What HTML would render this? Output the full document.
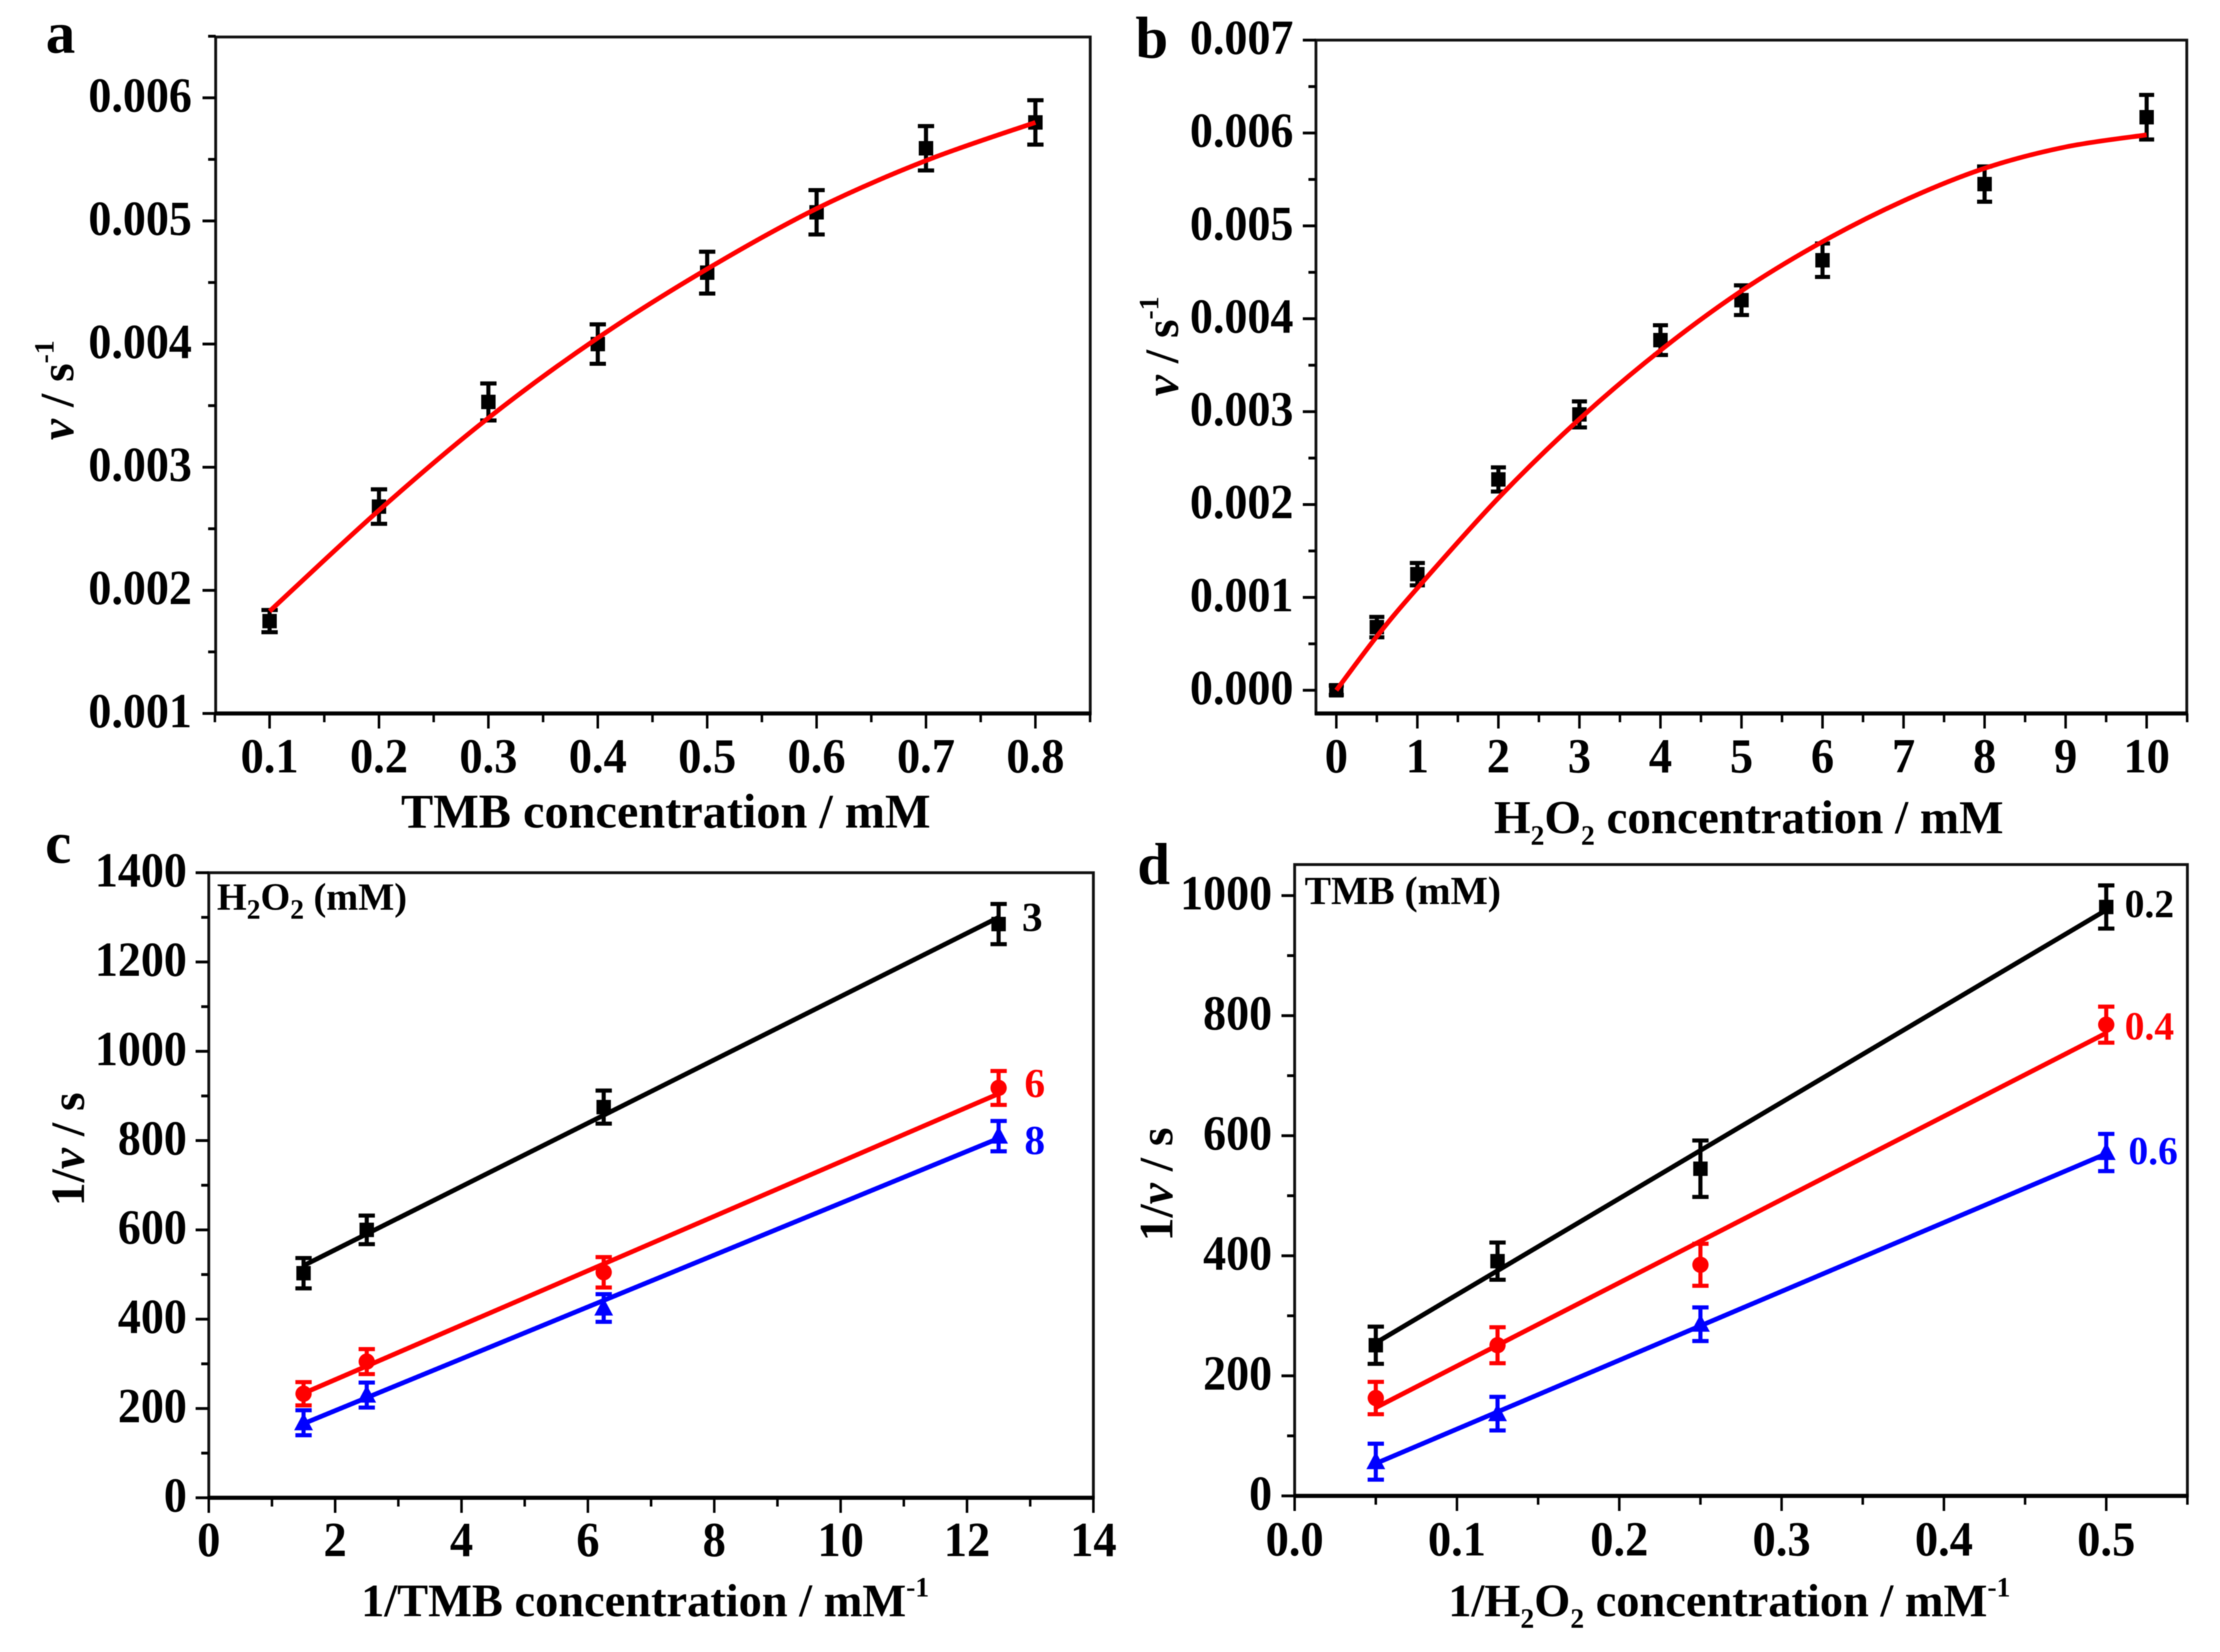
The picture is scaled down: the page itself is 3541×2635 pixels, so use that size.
<!DOCTYPE html>
<html lang="en">
<head>
<meta charset="utf-8">
<title>Steady-state kinetics panels</title>
<style>
html,body{margin:0;padding:0;background:#fff;}
svg{display:block;filter:blur(0.9px);}
text{font-family:"Liberation Serif",serif;font-weight:bold;fill:#000;}
.t{font-size:76px;}
.n{font-size:78px;}
.l{font-size:63px;}
.d{font-size:66px;}
.s{font-size:44px;}
.p{font-size:94px;}
.i{font-style:italic;}
</style>
</head>
<body>
<svg id="fig" xmlns="http://www.w3.org/2000/svg" width="3541" height="2635" viewBox="0 0 3541 2635">
<rect x="0" y="0" width="3541" height="2635" fill="#fff"/>

<text class="p" x="73" y="84">a</text>
<text class="p" x="1811" y="92">b</text>
<text class="p" x="72" y="1376">c</text>
<text class="p" x="1814" y="1410">d</text>

<text class="t" style="font-size:77px" x="1062" y="1320" text-anchor="middle">TMB concentration / mM</text>
<text class="t" style="font-size:75px" x="2383" y="1329">H<tspan class="s" dy="18">2</tspan><tspan dy="-18">O</tspan><tspan class="s" dy="18">2</tspan><tspan dy="-18"> concentration / mM</tspan></text>
<text class="t" style="font-size:74px" x="576" y="2578">1/TMB concentration / mM<tspan class="s" dy="-32">-1</tspan></text>
<text class="t" style="font-size:74px" x="2310" y="2578">1/H<tspan class="s" dy="18">2</tspan><tspan dy="-18">O</tspan><tspan class="s" dy="18">2</tspan><tspan dy="-18"> concentration / mM</tspan><tspan class="s" dy="-32">-1</tspan></text>

<text class="t" transform="translate(117,702) rotate(-90)"><tspan class="i">v</tspan> / s<tspan class="s" dy="-32">-1</tspan></text>
<text class="t" transform="translate(1879,632) rotate(-90)"><tspan class="i">v</tspan> / s<tspan class="s" dy="-32">-1</tspan></text>
<text class="t" transform="translate(134,1924) rotate(-90)">1/<tspan class="i">v</tspan> / s</text>
<text class="t" transform="translate(1870,1980) rotate(-90)">1/<tspan class="i">v</tspan> / s</text>

<text class="l" style="font-size:61px" x="346" y="1451">H<tspan class="s" dy="14">2</tspan><tspan dy="-14">O</tspan><tspan class="s" dy="14">2</tspan><tspan dy="-14"> (mM)</tspan></text>
<text class="l" x="2081" y="1442">TMB (mM)</text>

<text class="d" x="1630" y="1485">3</text>
<text class="d" x="1634" y="1750" style="fill:#f00">6</text>
<text class="d" x="1634" y="1841" style="fill:#00f">8</text>
<text class="d" x="3389" y="1463" style="font-size:63px">0.2</text>
<text class="d" x="3389" y="1658" style="font-size:63px;fill:#f00">0.4</text>
<text class="d" x="3395" y="1857" style="font-size:63px;fill:#00f">0.6</text>
</svg>

<script>
// ---- panel a ----
var aXTicks = ['0.1','0.2','0.3','0.4','0.5','0.6','0.7','0.8'];
var aYTicks = ['0.001','0.002','0.003','0.004','0.005','0.006'];
var aX = [0.1,0.2,0.3,0.4,0.5,0.6,0.7,0.8];
var aV = [0.00175,0.00268,0.00353,0.00400,0.00458,0.00507,0.00559,0.00580];
var aErr = [0.00009,0.00014,0.00015,0.00016,0.00017,0.00018,0.00018,0.00018];
var aFit = [0.00183,0.00265,0.00340,0.00405,0.00461,0.00510,0.00549,0.00580];

// ---- panel b ----
var bXTicks = ['0','1','2','3','4','5','6','7','8','9','10'];
var bYTicks = ['0.000','0.001','0.002','0.003','0.004','0.005','0.006','0.007'];
var bX = [0,0.5,1,2,3,4,5,6,8,10];
var bV = [0,0.00068,0.00125,0.00227,0.00297,0.00377,0.00420,0.00463,0.00545,0.00617];
var bErr = [0.00005,0.00011,0.00012,0.00013,0.00014,0.00016,0.00016,0.00018,0.00019,0.00024];
var bFitX = [0,0.5,1,2,3,4,5,6,7,8,9,10];
var bFit = [0,0.00058,0.00110,0.00207,0.00292,0.00366,0.00430,0.00483,0.00527,0.00562,0.00585,0.00598];

// ---- panel c ----
var cXTicks = ['0','2','4','6','8','10','12','14'];
var cYTicks = ['0','200','400','600','800','1000','1200','1400'];
var cX = [1.5,2.5,6.25,12.5];
var cFitX = [1.5,12.5];
var c3V = [503,600,875,1285];
var c3Err = [34,32,37,45];
var c3Fit = [520,1300];
var c6V = [233,305,505,918];
var c6Err = [26,28,34,38];
var c6Fit = [234,905];
var c8V = [168,230,425,810];
var c8Err = [28,28,31,34];
var c8Fit = [166,805];

// ---- panel d ----
var dXTicks = ['0.0','0.1','0.2','0.3','0.4','0.5'];
var dYTicks = ['0','200','400','600','800','1000'];
var dX = [0.05,0.125,0.25,0.5];
var dFitX = [0.05,0.5];
var d2V = [251,391,545,981];
var d2Err = [31,31,47,36];
var d2Fit = [255,976];
var d4V = [163,251,385,785];
var d4Err = [27,30,35,30];
var d4Fit = [147,771];
var d6V = [57,137,286,572];
var d6Err = [30,28,28,31];
var d6Fit = [54,570];

var NS = 'http://www.w3.org/2000/svg';
var svg = document.getElementById('fig');

function make(tag, attrs, parent) {
  var n = document.createElementNS(NS, tag);
  for (var k in attrs) { n.setAttribute(k, attrs[k]); }
  parent.appendChild(n);
  return n;
}
function linear(d0, d1, r0, r1) {
  return function (v) { return r0 + (v - d0) * (r1 - r0) / (d1 - d0); };
}
function smoothPath(pts) {
  var d = 'M' + pts[0][0] + ' ' + pts[0][1];
  for (var i = 0; i < pts.length - 1; i++) {
    var p0 = pts[Math.max(i - 1, 0)], p1 = pts[i], p2 = pts[i + 1], p3 = pts[Math.min(i + 2, pts.length - 1)];
    d += ' C' + (p1[0] + (p2[0] - p0[0]) / 6) + ' ' + (p1[1] + (p2[1] - p0[1]) / 6) + ' ' +
         (p2[0] - (p3[0] - p1[0]) / 6) + ' ' + (p2[1] - (p3[1] - p1[1]) / 6) + ' ' + p2[0] + ' ' + p2[1];
  }
  return d;
}

function drawAxes(g, box, sx, sy, xTicks, yTicks, xLabelGap, yLabelGap, yBase) {
  var frame = make('rect', {x: box.l, y: box.t, width: box.r - box.l, height: box.b - box.t, fill: 'none', stroke: '#111', 'stroke-width': 4.5}, g);
  
  
  var base = make('line', {x1: box.l - 2, x2: box.r + 2, y1: box.b, y2: box.b, stroke: '#000', 'stroke-width': 6.5}, g);
  
  

  var xv = xTicks.map(parseFloat), yv = yTicks.map(parseFloat);
  var xStep = (xv[1] - xv[0]) / 2, yStep = (yv[1] - yv[0]) / 2;
  var v, i, t, lab;

  var xMin = Math.min(sx.inv(box.l), sx.inv(box.r)), xMax = Math.max(sx.inv(box.l), sx.inv(box.r));
  for (i = -4; i <= xv.length * 2 + 4; i++) {
    v = xv[0] + i * xStep;
    if (v < xMin - xStep * 0.02 || v > xMax + xStep * 0.02) { continue; }
    var major = i % 2 === 0 && i >= 0 && i / 2 < xv.length;
    t = make('line', {x1: sx(v), x2: sx(v), y1: box.b, y2: box.b + (major ? 24 : 14), stroke: '#000', 'stroke-width': 4}, g);
    
    
  }
  var yMin = sy.inv(box.b), yMax = sy.inv(box.t);
  for (i = -4; i <= yv.length * 2 + 4; i++) {
    v = yv[0] + i * yStep;
    if (v < yMin - yStep * 0.02 || v > yMax + yStep * 0.02) { continue; }
    var majorY = i % 2 === 0 && i >= 0 && i / 2 < yv.length;
    t = make('line', {x1: box.l, x2: box.l - (majorY ? 21 : 12), y1: sy(v), y2: sy(v), stroke: '#000', 'stroke-width': 4.5}, g);
    
    
  }
  for (i = 0; i < xTicks.length; i++) {
    lab = make('text', {transform: 'translate(' + sx(xv[i]) + ',' + (box.b + xLabelGap) + ') scale(0.95,1)', 'text-anchor': 'middle', 'class': 'n'}, g);
    lab.textContent = xTicks[i];
    
    
  }
  for (i = 0; i < yTicks.length; i++) {
    lab = make('text', {transform: 'translate(' + (box.l - yLabelGap) + ',' + (sy(yv[i]) + yBase) + ') scale(0.94,1)', 'text-anchor': 'end', 'class': 'n'}, g);
    lab.textContent = yTicks[i];
    
    
  }
}

function drawPoints(g, xs, ys, errs, sx, sy, color, shape, capHalf) {
  for (var i = 0; i < xs.length; i++) {
    var px = sx(xs[i]), py = sy(ys[i]), top = sy(ys[i] + errs[i]), bot = sy(ys[i] - errs[i]);
    var e = make('path', {
      d: 'M' + px + ' ' + top + ' V' + bot + ' M' + (px - capHalf) + ' ' + top + ' H' + (px + capHalf) + ' M' + (px - capHalf) + ' ' + bot + ' H' + (px + capHalf),
      fill: 'none', stroke: color, 'stroke-width': 6.5
    }, g);
    
    
    var m;
    if (shape === 'circle') {
      m = make('circle', {cx: px, cy: py, r: 13, fill: color}, g);
    } else if (shape === 'triangle') {
      m = make('path', {d: 'M' + px + ' ' + (py - 16) + ' L' + (px + 15) + ' ' + (py + 12) + ' L' + (px - 15) + ' ' + (py + 12) + ' Z', fill: color}, g);
    } else {
      m = make('rect', {x: px - 11.5, y: py - 11.5, width: 23, height: 23, fill: color}, g);
    }
    
    
  }
}

function drawFit(g, xs, ys, sx, sy, color) {
  var pts = xs.map(function (x, i) { return [sx(x), sy(ys[i])]; });
  var f = make('path', {d: smoothPath(pts), fill: 'none', stroke: color, 'stroke-width': 7.5}, g);
  
  
}

function scale(d0, d1, r0, r1) {
  var s = linear(d0, d1, r0, r1);
  s.inv = linear(r0, r1, d0, d1);
  return s;
}

// panel a
var ga = make('g', {}, svg);


var ax = scale(0.1, 0.8, 430, 1651.5), ay = scale(0.001, 0.006, 1138, 156);
drawAxes(ga, {l: 344, r: 1739, t: 59, b: 1138}, ax, ay, aXTicks, aYTicks, 94, 38, 22);
drawPoints(ga, aX, aV, aErr, ax, ay, '#000', 'square', 13);
drawFit(ga, aX, aFit, ax, ay, '#f00');

// panel b
var gb = make('g', {}, svg);


var bx = scale(0, 10, 2131.5, 3424), by = scale(0, 0.007, 1101, 64);
drawAxes(gb, {l: 2099, r: 3488, t: 64, b: 1138}, bx, by, bXTicks, bYTicks, 94, 36, 22);
drawPoints(gb, bX, bV, bErr, bx, by, '#000', 'square', 12);
drawFit(gb, bFitX, bFit, bx, by, '#f00');

// panel c
var gc = make('g', {}, svg);


var cx = scale(0, 14, 333, 1744), cy = scale(0, 1400, 2389, 1392);
drawAxes(gc, {l: 333, r: 1744, t: 1392, b: 2389}, cx, cy, cXTicks, cYTicks, 93, 35, 22);
drawPoints(gc, cX, c3V, c3Err, cx, cy, '#000', 'square', 13);
drawFit(gc, cFitX, c3Fit, cx, cy, '#000');
drawPoints(gc, cX, c6V, c6Err, cx, cy, '#f00', 'circle', 13);
drawFit(gc, cFitX, c6Fit, cx, cy, '#f00');
drawPoints(gc, cX, c8V, c8Err, cx, cy, '#00f', 'triangle', 13);
drawFit(gc, cFitX, c8Fit, cx, cy, '#00f');

// panel d
var gd = make('g', {}, svg);


var dx = scale(0, 0.55, 2065, 3489), dy = scale(0, 1000, 2386, 1428.5);
drawAxes(gd, {l: 2065, r: 3489, t: 1379, b: 2386}, dx, dy, dXTicks, dYTicks, 95, 36, 22);
drawPoints(gd, dX, d2V, d2Err, dx, dy, '#000', 'square', 13);
drawFit(gd, dFitX, d2Fit, dx, dy, '#000');
drawPoints(gd, dX, d4V, d4Err, dx, dy, '#f00', 'circle', 13);
drawFit(gd, dFitX, d4Fit, dx, dy, '#f00');
drawPoints(gd, dX, d6V, d6Err, dx, dy, '#00f', 'triangle', 13);
drawFit(gd, dFitX, d6Fit, dx, dy, '#00f');
</script>
</body>
</html>
